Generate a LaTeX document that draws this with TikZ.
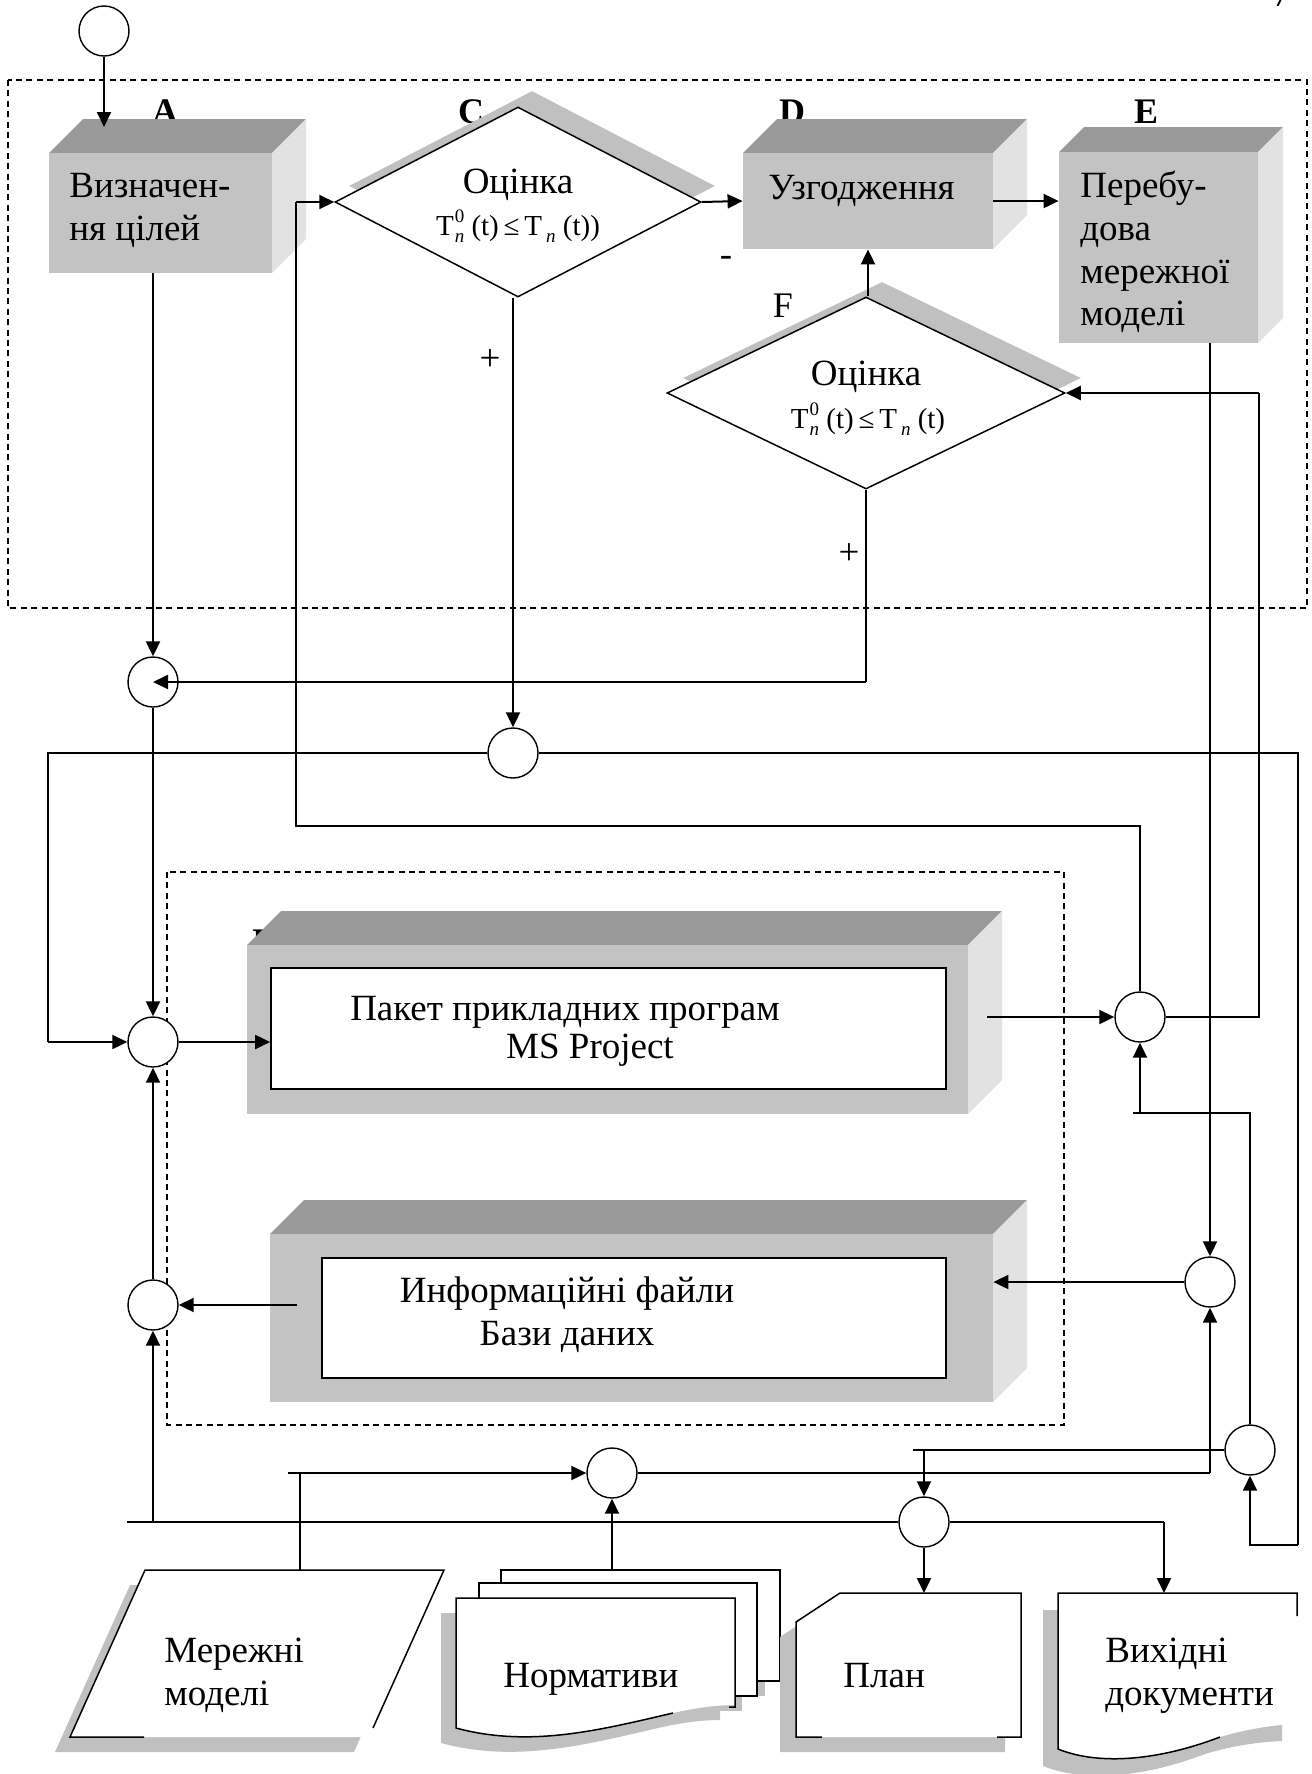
\documentclass[tikz,border=0pt]{standalone}
\usepackage{fontspec}
\setmainfont{Liberation Serif}
\usetikzlibrary{arrows.meta,shapes.geometric,fit}

\definecolor{topc}{HTML}{999999}
\definecolor{frontc}{HTML}{C3C3C3}
\definecolor{sidec}{HTML}{E2E2E2}
\definecolor{shadc}{HTML}{C0C0C0}

\newcommand{\Tsup}{T\kern0.5pt\rlap{\raisebox{0.95ex}{\fontsize{9.5}{9.5}\selectfont 0}}\raisebox{-0.55ex}{\fontsize{9.5}{9.5}\selectfont\itshape n}}
\newcommand{\Tsub}{T\kern2pt\raisebox{-0.55ex}{\fontsize{9.5}{9.5}\selectfont\itshape n}}

\newcommand{\boxthreed}[6]{%
  \fill[topc] (#2,#3) -- ({#2+#6},{#3-#6}) -- ({#4+#6},{#3-#6}) -- (#4,#3) -- cycle;
  \fill[sidec] (#4,#3) -- ({#4+#6},{#3-#6}) -- ({#4+#6},{#5-#6}) -- (#4,#5) -- cycle;
  \fill[frontc] (#2,#3) rectangle (#4,#5);
  \node[inner sep=0pt,fit={(#2,#3) (#4,#5)}] (#1) {};
}

\begin{document}
\begin{tikzpicture}[x=0.5pt,y=-0.5pt,
  ln/.style={line width=0.7pt},
  arr/.style={line width=1pt,-{Triangle[length=7.5pt,width=7pt]}},
  circ/.style={circle,draw,fill=white,line width=0.7pt,minimum size=25pt,inner sep=0pt},
  txt/.style={font=\fontsize{18.5}{21.5}\selectfont,inner sep=0pt,anchor=base west},
  ctxt/.style={font=\fontsize{18.5}{21.5}\selectfont,inner sep=0pt,anchor=base},
  ftxt/.style={font=\fontsize{14.5}{16}\selectfont,inner sep=0pt,anchor=base},
  lblb/.style={font=\fontsize{18}{18}\selectfont\bfseries,inner sep=0pt,anchor=base},
  shp/.style={line width=0.75pt},
  dashbox/.style={line width=0.65pt,dash pattern=on 3pt off 2.2pt},
  dmd/.style={diamond,inner sep=0pt},
]
\useasboundingbox (0,0) rectangle (1312,1774);

% page number fragment
\node[anchor=base west,inner sep=0pt,font=\fontsize{18}{18}\selectfont] (pg) at (1272,6) {7};

% dashed frames
\draw[dashbox] (8,80) rectangle (1307,608);
\draw[dashbox] (167,872) rectangle (1064,1425);

% labels (partly covered by boxes)
\node[lblb] (labA) at (165,123) {A};
\node[lblb] (labC) at (471,123) {C};
\node[lblb] (labD) at (792,123) {D};
\node[lblb] (labE) at (1146,123) {E};
\node[lblb,anchor=base west] (labB) at (252,953) {B};
\node[font=\fontsize{18}{18}\selectfont,inner sep=0pt,anchor=base] (labF) at (783,317) {F};

% 3D boxes
\boxthreed{A}{49}{153}{272}{273}{34}
\boxthreed{D}{743}{153}{993}{249}{34}
\boxthreed{E}{1059}{152}{1258}{343}{25}
\boxthreed{box1}{247}{945}{968}{1114}{34}
\boxthreed{box2}{270}{1234}{993}{1402}{34}
\node[draw,fill=white,line width=0.85pt,inner sep=0pt,fit={(271,968) (946,1089)}] (box1in) {};
\node[draw,fill=white,line width=0.85pt,inner sep=0pt,fit={(322,1258) (946,1378)}] (box2in) {};

% diamonds
\node[dmd,fill=shadc,minimum width=183pt,minimum height=95pt] (Csh) at (532,186) {};
\node[dmd,draw,fill=white,line width=0.75pt,minimum width=183pt,minimum height=95pt] (C) at (518,202) {};
\node[dmd,fill=shadc,minimum width=199pt,minimum height=96pt] (Fsh) at (882,378) {};
\node[dmd,draw,fill=white,line width=0.75pt,minimum width=199pt,minimum height=96pt] (F) at (866,393) {};

% ---- bottom shapes ----
% Мережні моделі
\fill[shadc] (130,1585) -- (429,1585) -- (354,1752) -- (55,1752) -- cycle;
\fill[white] (145,1570) -- (444,1570) -- (369,1737) -- (70,1737) -- cycle;
\draw[shp] (144,1737) -- (70,1737) -- (145,1570) -- (444,1570) -- (373,1728);
\coordinate (MMtop) at (300,1570);

% Нормативи (three pages)
\fill[shadc] (486,1585) rectangle (765,1696);
\filldraw[fill=white,shp] (501,1570) rectangle (780,1681);
\fill[shadc] (464,1598) rectangle (742,1711);
\filldraw[fill=white,shp] (479,1583) rectangle (757,1696);
\begin{scope}[shift={(-15,15)}]
\fill[shadc] (456,1598) -- (735,1598) -- (735,1705) .. controls (715,1705) and (695,1708) .. (673,1713) .. controls (600,1730) and (530,1748) .. (456,1728) -- cycle;
\end{scope}
\fill[white] (456,1598) -- (735,1598) -- (735,1705) .. controls (715,1705) and (695,1708) .. (673,1713) .. controls (600,1730) and (530,1748) .. (456,1728) -- cycle;
\draw[shp] (729,1707) -- (735,1707) -- (735,1598) -- (456,1598) -- (456,1728) .. controls (530,1748) and (600,1730) .. (673,1713);
\coordinate (NRtop) at (612,1570);

% План
\begin{scope}[shift={(-16,15)}]
\fill[shadc] (840,1593) -- (1021,1593) -- (1021,1737) -- (796,1737) -- (796,1622) -- cycle;
\end{scope}
\fill[white] (840,1593) -- (1021,1593) -- (1021,1737) -- (796,1737) -- (796,1622) -- cycle;
\draw[shp] (822,1737) -- (796,1737) -- (796,1622) -- (840,1593) -- (1021,1593) -- (1021,1737) -- (997,1737);
\coordinate (PLtop) at (924,1593);

% Вихідні документи
\begin{scope}[shift={(-15,17)}]
\fill[shadc] (1058,1593) -- (1297,1593) -- (1297,1724) .. controls (1275,1725) and (1250,1728) .. (1220,1737) .. controls (1160,1760) and (1100,1766) .. (1058,1749) -- cycle;
\end{scope}
\fill[white] (1058,1593) -- (1297,1593) -- (1297,1724) .. controls (1275,1725) and (1250,1728) .. (1220,1737) .. controls (1160,1760) and (1100,1766) .. (1058,1749) -- cycle;
\draw[shp] (1297,1616) -- (1297,1593) -- (1058,1593) -- (1058,1749) .. controls (1100,1766) and (1160,1760) .. (1220,1737);
\coordinate (VDtop) at (1164,1593);

% ---- junction circles ----
\node[circ] (start) at (104,31) {};
\node[circ] (L1) at (153,682) {};
\node[circ] (L2) at (153,1042) {};
\node[circ] (L3) at (153,1305) {};
\node[circ] (M) at (513,753) {};
\node[circ] (R1) at (1140,1017) {};
\node[circ] (R2) at (1210,1282) {};
\node[circ] (R3) at (1250,1450) {};
\node[circ] (B1) at (612,1473) {};
\node[circ] (B2) at (924,1522) {};

% ---- named bend points ----
\coordinate (Atop) at (104,127);
\coordinate (fIn) at (1259,393);
\coordinate (cL) at (296,826);
\coordinate (cLt) at (296,202);
\coordinate (mL) at (48,1042);
\coordinate (mR) at (1298,1545);
\coordinate (b1out) at (987,1017);
\coordinate (b2out) at (297,1305);
\coordinate (busL) at (127,1522);
\coordinate (mmL) at (288,1473);
\coordinate (r3L) at (913,1450);
\coordinate (r3T) at (1133,1113);
\coordinate (r3R1) at (1140,1113);
\coordinate (b2R) at (1164,1522);

% ---- connectors ----
\draw[arr] (start.south) -- (Atop);
\draw[arr] (A.south -| L1.north) -- (L1.north);
\draw[arr] (L1.south) -- (L2.north);
\draw[arr] (L3.north) -- (L2.south);
\draw[arr] (L3.south |- B2.west) -- (L3.south);
\draw[ln] (B2.west) -- (busL);
\draw[arr] (C.east) -- (D.west);
\draw[arr] (D.east) -- (D.east -| E.west);
\draw[arr] (F.north -| D.south) -- (D.south);
\draw[arr] (C.south -| M.north) -- (M.north);
\draw[ln] (F.south) -- (F.south |- L1.center);
\draw[arr] (F.south |- L1.center) -- (L1.center);
\draw[arr] (E.south -| R2.north) -- (R2.north);
\draw[ln] (R1.east) -| (fIn);
\draw[arr] (fIn) -- (F.east);
\draw[ln] (R1.north) |- (cL) -- (cLt);
\draw[arr] (cLt) -- (C.west);
\draw[ln] (M.west) -| (mL);
\draw[arr] (mL) -- (L2.west);
\draw[ln] (M.east) -| (mR);
\draw[arr] (mR) -| (R3.south);
\draw[arr] (L2.east) -- (L2.east -| box1in.west);
\draw[arr] (b1out) -- (R1.west);
\draw[arr] (R2.west) -- (R2.west -| box2.east);
\draw[arr] (b2out) -- (L3.east);
\draw[ln] (MMtop) |- (mmL);
\draw[arr] (MMtop |- B1.west) -- (B1.west);
\draw[arr] (NRtop) -- (B1.south);
\draw[ln] (B1.east) -- (B1.east -| R2.south);
\draw[arr] (B1.east -| R2.south) -- (R2.south);
\draw[ln] (R3.west) -- (r3L);
\draw[arr] (B2.north |- R3.west) -- (B2.north);
\draw[ln] (R3.north) |- (r3T);
\draw[arr] (r3R1) -- (R1.south);
\draw[arr] (B2.south) -- (PLtop);
\draw[ln] (B2.east) -- (b2R);
\draw[arr] (b2R) -- (VDtop);

% ---- texts ----
\node[txt] (tA1) at (69,197) {Визначен-};
\node[txt] (tA2) at (69,240) {ня цілей};
\node[txt] (tD) at (768,199) {Узгодження};
\node[txt] (tE1) at (1080,197) {Перебу-};
\node[txt] (tE2) at (1080,240) {дова};
\node[txt] (tE3) at (1080,283) {мережної};
\node[txt] (tE4) at (1080,325) {моделі};
\node[ctxt] (tC1) at (518,193) {Оцінка};
\node[ftxt] (tC2) at (518,235) {\Tsup\ (t)\,≤\,\Tsub\ (t))};
\node[ctxt] (tF1) at (866,385) {Оцінка};
\node[ftxt] (tF2) at (868,428) {\Tsup\ (t)\,≤\,\Tsub\ (t)};
\node[ctxt] (minus) at (726,266) {-};
\node[ctxt] (plusC) at (490,370) {+};
\node[ctxt] (plusF) at (849,564) {+};
\node[ctxt] (tB1) at (565,1020) {Пакет прикладних програм};
\node[ctxt] (tB2) at (590,1058) {MS Project};
\node[ctxt] (tG1) at (567,1302) {Информаційні файли};
\node[ctxt] (tG2) at (567,1345) {Бази даних};
\node[txt] (tM1) at (164,1662) {Мережні};
\node[txt] (tM2) at (164,1705) {моделі};
\node[txt] (tN) at (503,1687) {Нормативи};
\node[txt] (tP) at (843,1687) {План};
\node[txt] (tV1) at (1105,1662) {Вихідні};
\node[txt] (tV2) at (1105,1705) {документи};
\end{tikzpicture}
\end{document}
